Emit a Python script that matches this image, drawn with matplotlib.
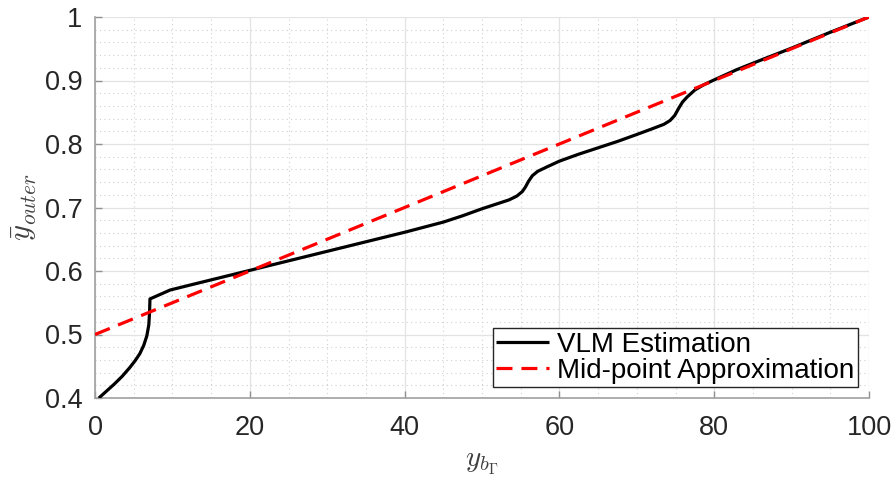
import matplotlib
matplotlib.use("Agg")
import matplotlib.pyplot as plt
from matplotlib.ticker import MultipleLocator

plt.rcParams['mathtext.fontset'] = 'cm'
plt.rcParams['font.family'] = ['Liberation Sans', 'DejaVu Sans']

# VLM estimation curve
vlm_x = [0.5, 1.5, 2.5, 3.5, 4.5, 5.2, 5.8, 6.3, 6.7, 6.95, 7.05, 7.1,
         8.4, 9.7, 12.0, 15.0, 20.0, 25.0, 30.0, 35.0, 40.0, 42.5, 45.0,
         47.5, 50.0, 52.0, 53.5, 54.5, 55.2, 55.6, 56.0, 56.5, 57.2, 58.4,
         60.0, 62.5, 65.0, 67.5, 70.0, 72.0, 73.5, 74.3, 74.9, 75.4, 75.9,
         76.5, 77.5, 78.6, 80.0, 82.9, 86.0, 90.0, 95.0, 100.0]
vlm_y = [0.400, 0.411, 0.422, 0.434, 0.448, 0.459, 0.470, 0.483, 0.498,
         0.515, 0.535, 0.556, 0.563, 0.570, 0.577, 0.586, 0.601, 0.616,
         0.631, 0.646, 0.661, 0.669, 0.677, 0.687, 0.698, 0.706, 0.712,
         0.718, 0.725, 0.732, 0.741, 0.750, 0.757, 0.764, 0.773, 0.784,
         0.794, 0.804, 0.815, 0.824, 0.831, 0.837, 0.845, 0.856, 0.866,
         0.874, 0.885, 0.893, 0.901, 0.917, 0.932, 0.951, 0.976, 1.000]

# Mid-point approximation
mid_x = [0, 100]
mid_y = [0.5, 1.0]

x_ticks = [0, 20, 40, 60, 80, 100]
y_ticks = [0.4, 0.5, 0.6, 0.7, 0.8, 0.9, 1.0]
y_tick_labels = ['0.4', '0.5', '0.6', '0.7', '0.8', '0.9', '1']

fig = plt.figure(figsize=(8.96, 4.78), dpi=100)
ax = fig.add_axes([95/896, 1-398/478, (869-95)/896, (398-17)/478])

ax.plot(vlm_x, vlm_y, color='black', lw=2.3, label='VLM Estimation',
        solid_capstyle='butt', solid_joinstyle='round', zorder=3)
ax.plot(mid_x, mid_y, color='#ff0000', lw=2.3, ls=(0, (5, 2.8)),
        label='Mid-point Approximation', zorder=4)

ax.set_xlim(0, 100)
ax.set_ylim(0.4, 1.0)
ax.set_xticks(x_ticks)
ax.set_yticks(y_ticks)
ax.set_yticklabels(y_tick_labels)
ax.xaxis.set_minor_locator(MultipleLocator(5))
ax.yaxis.set_minor_locator(MultipleLocator(0.02))

ax.grid(which='major', color='#e3e3e3', lw=0.9, ls='-')
ax.grid(which='minor', color='#d0d0d0', lw=0.8, ls=(0, (1, 3)))
ax.set_axisbelow(True)

for s in ['top', 'right']:
    ax.spines[s].set_visible(False)
for s in ['left', 'bottom']:
    ax.spines[s].set_color('#a0a0a0')
    ax.spines[s].set_linewidth(1.2)

ax.tick_params(which='minor', length=0)
ax.tick_params(which='major', direction='in', length=5, width=1.0,
               color='#909090', labelsize=19.5, labelcolor='#262626')
ax.tick_params(axis='y', pad=9)
ax.tick_params(axis='x', pad=12)

ax.set_xlabel(r'$y_{b_\Gamma}$', fontsize=21, color='#404040', labelpad=6)
ax.set_ylabel(r'$\bar{y}_{outer}$', fontsize=22, color='#404040', labelpad=4)

leg = ax.legend(loc='lower right', fontsize=20, frameon=True, fancybox=False,
                edgecolor='#262626', framealpha=1, borderpad=0.12,
                handlelength=1.9, handletextpad=0.3, labelspacing=0.0,
                borderaxespad=0.0, bbox_to_anchor=(763/774, 11/381))
leg.get_frame().set_linewidth(1.0)

fig.savefig('out.png', dpi=100)
